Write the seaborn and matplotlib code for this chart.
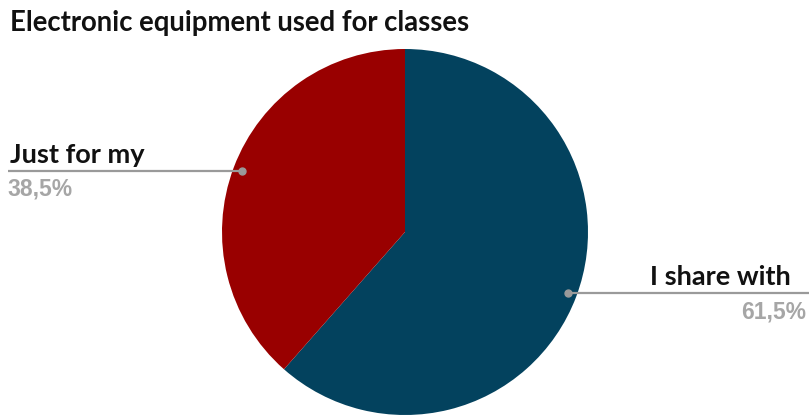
import matplotlib
matplotlib.use("Agg")
import matplotlib.pyplot as plt
import seaborn as sns
import numpy as np

sns.set_theme(style="white")
plt.rcParams['font.family'] = ['Lato', 'DejaVu Sans']

# Data
categories = ["I share with", "Just for my"]
shares = [61.5, 38.5]
pct_labels = ["61,5%", "38,5%"]
colors = ["#03425E", "#990000"]

W, H = 809, 415
fig = plt.figure(figsize=(W / 100, H / 100), dpi=100)
ax = fig.add_axes([0, 0, 1, 1])

cx, cy, r = 405, 183, 183
wedges, _ = ax.pie(shares, colors=colors, startangle=90, counterclock=False,
                   center=(cx, cy), radius=r, frame=True,
                   wedgeprops=dict(linewidth=0))
ax.set_xlim(0, W)
ax.set_ylim(0, H)
ax.set_aspect('equal')
ax.axis('off')

line_col = "#9A9A9A"
for w, cat, pct in zip(wedges, categories, pct_labels):
    mid = np.deg2rad((w.theta1 + w.theta2) / 2)
    px = cx + 0.95 * r * np.cos(mid)
    py = cy + 0.95 * r * np.sin(mid)
    if np.cos(mid) >= 0:
        ax.plot([px, W], [py, py], color=line_col, lw=1.6, solid_capstyle='butt', clip_on=False)
        ax.plot(px, py, 'o', color=line_col, ms=5)
        ax.text(791, py + 4, cat, ha='right', va='bottom', fontsize=19.5,
                fontweight='bold', color='#111111')
        ax.text(806, py - 7, pct, ha='right', va='top', fontsize=16.5,
                fontweight='bold', color='#A6A6A6', family='Liberation Sans')
    else:
        ax.plot([8, px], [py, py], color=line_col, lw=1.6, solid_capstyle='butt')
        ax.plot(px, py, 'o', color=line_col, ms=5)
        ax.text(10, py + 4, cat, ha='left', va='bottom', fontsize=19.5,
                fontweight='bold', color='#111111')
        ax.text(7, py - 7, pct, ha='left', va='top', fontsize=16.5,
                fontweight='bold', color='#A6A6A6', family='Liberation Sans')

fig.text(10 / W, 1 - 10 / H, "Electronic equipment used for classes", ha='left', va='top',
         fontsize=19.8, fontweight='bold', color='#111111')

fig.savefig("out.png", dpi=100)
